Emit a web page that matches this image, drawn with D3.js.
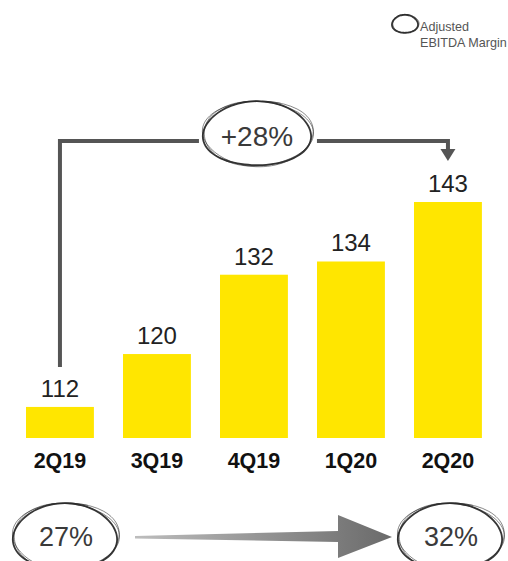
<!DOCTYPE html>
<html><head><meta charset="utf-8">
<script src="https://cdn.jsdelivr.net/npm/d3@7"></script>
<style>
html,body{margin:0;padding:0;background:#fff;}
svg{display:block;font-family:"Liberation Sans",Arial,Helvetica,sans-serif;}
</style></head>
<body>
<svg id="chart" width="508" height="561"></svg>
<script>
const categories = ["2Q19","3Q19","4Q19","1Q20","2Q20"];
const values = [112,120,132,134,143];
const growthLabel = "+28%";
const marginLabels = ["27%","32%"];
const legendLines = ["Adjusted","EBITDA Margin"];

const svg = d3.select("#chart");

const x = d3.scaleBand().domain(categories).range([11.45, 496.45]).paddingInner(0.3).paddingOuter(0.15);
const y = d3.scaleLinear().domain([107.3, 143]).range([438, 202]);
const bw = x.bandwidth();
const cx = c => x(c) + bw / 2;

// bars
svg.append("g").selectAll("rect").data(values).join("rect")
  .attr("x", (d,i) => x(categories[i]))
  .attr("y", d => y(d))
  .attr("width", bw)
  .attr("height", d => y.range()[0] - y(d))
  .attr("fill", "#FFE600");

// value labels
svg.append("g").selectAll("text").data(values).join("text")
  .attr("x", (d,i) => cx(categories[i]))
  .attr("y", d => y(d) - 10)
  .attr("text-anchor", "middle")
  .attr("font-size", 24)
  .attr("fill", "#222")
  .text(d => d);

// category axis
const xAxis = d3.axisBottom(x).tickSize(0).tickPadding(0);
const ag = svg.append("g").attr("transform", "translate(0,452)").call(xAxis);
ag.select(".domain").remove();
ag.selectAll("text").attr("font-size", 21.5).attr("font-weight", "bold").attr("fill", "#111")
  .attr("font-family", "'Liberation Sans',Arial,sans-serif").attr("dy", "0.74em");

// sketchy ellipse
function sketchEllipse(g, ex, ey, rx, ry, passes) {
  const line = d3.line().curve(d3.curveCatmullRom);
  for (let p = 0; p < passes; p++) {
    const pts = [];
    const a0 = -2.2 + p * 0.35;
    const a1 = a0 + Math.PI * 2 + 0.35;
    const n = 48;
    for (let k = 0; k <= n; k++) {
      const a = a0 + (a1 - a0) * k / n;
      const wob = 1 + 0.025 * Math.sin(a * 3 + p * 1.7) + 0.012 * p;
      pts.push([ex + rx * wob * Math.cos(a) + p * 0.6, ey + ry * wob * Math.sin(a) - p * 0.4]);
    }
    g.append("path").attr("d", line(pts)).attr("fill", "none")
      .attr("stroke", "#2b2b2b").attr("stroke-width", p === 0 ? 1.8 : 0.8)
      .attr("stroke-opacity", p === 0 ? 0.95 : 0.7);
  }
}

// growth bracket
const bx0 = cx(categories[0]);
const bx1 = cx(categories[categories.length - 1]);
const topY = 141;
const midX = (bx0 + bx1) / 2 + 3;
const br = svg.append("g").attr("fill", "none").attr("stroke", "#555").attr("stroke-width", 4);
br.append("path").attr("d", `M${bx0},${y(values[0]) - 40}V${topY}H${midX - 58}`);
br.append("path").attr("d", `M${midX + 60},${topY}H${bx1}V${y(values[4]) - 52}`);
svg.append("path")
  .attr("d", `M${bx1 - 7.5},${y(values[4]) - 53}L${bx1 + 7.5},${y(values[4]) - 53}L${bx1},${y(values[4]) - 41}Z`)
  .attr("fill", "#555");

const eg = svg.append("g");
sketchEllipse(eg, midX, 134, 54, 32, 3);
svg.append("text").attr("x", midX).attr("y", 146).attr("text-anchor", "middle")
  .attr("font-size", 28).attr("fill", "#3a3a3a").text(growthLabel);

// bottom margins
const mY = 537;
const mx = [cx(categories[0]) + 5, cx(categories[4]) + 2];
marginLabels.forEach((t, i) => {
  sketchEllipse(svg.append("g"), mx[i], mY, 52, 33, 3);
  svg.append("text").attr("x", mx[i] + 1).attr("y", 546).attr("text-anchor", "middle")
    .attr("font-size", 27).attr("fill", "#3a3a3a").text(t);
});

// big gradient arrow
const defs = svg.append("defs");
const grad = defs.append("linearGradient").attr("id", "ag").attr("x1", "0%").attr("x2", "100%");
grad.append("stop").attr("offset", "0%").attr("stop-color", "#bdbdbd");
grad.append("stop").attr("offset", "100%").attr("stop-color", "#6a6a6a");
const ax0 = 135, axh = 338, axt = 392;
svg.append("path")
  .attr("d", `M${ax0},${mY - 1}L${axh},${mY - 6}L${axh},${515}L${axt},${mY}L${axh},${558}L${axh},${mY + 5}L${ax0},${mY + 1.5}Z`)
  .attr("fill", "url(#ag)");

// legend
const lg = svg.append("g");
sketchEllipse(lg, 405, 24, 13, 9, 2);
legendLines.forEach((t, i) => {
  lg.append("text").attr("x", 420).attr("y", 31 + i * 16).attr("font-size", 12.6)
    .attr("fill", "#555").text(t);
});
</script>
</body></html>
